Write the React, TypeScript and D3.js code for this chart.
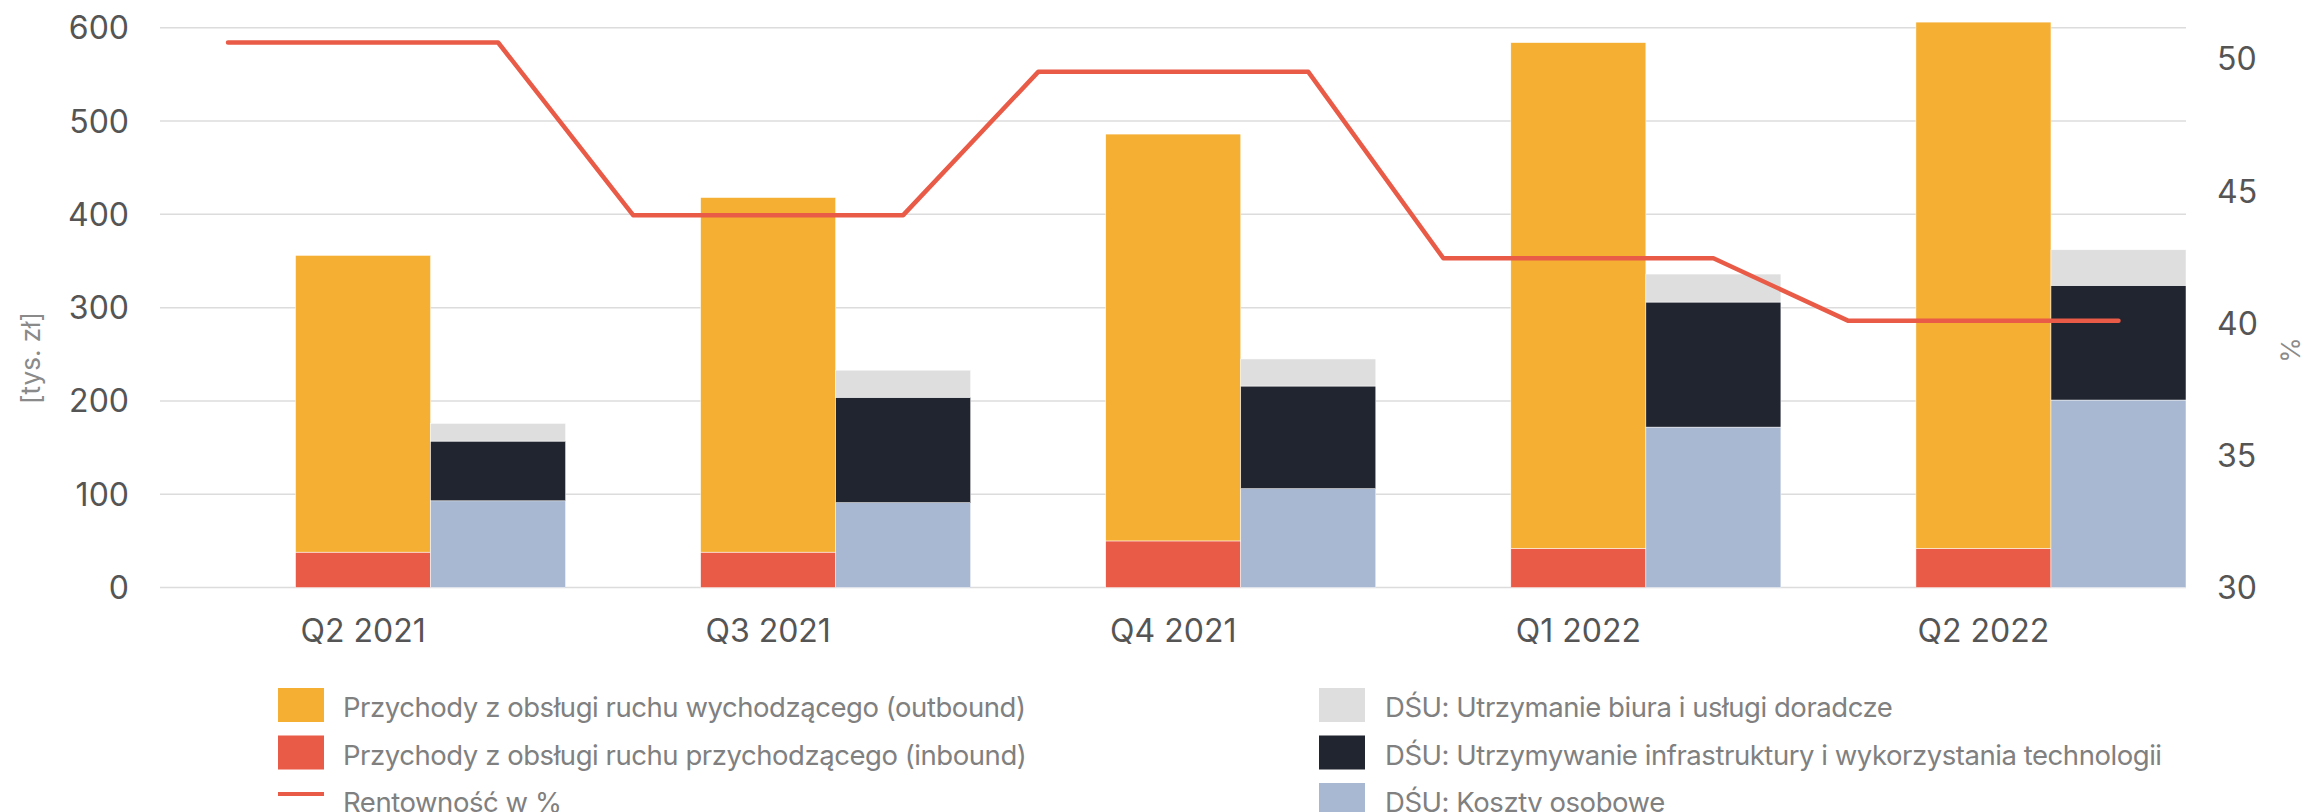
import React from "react";
import * as d3 from "d3";

const categories = ["Q2 2021", "Q3 2021", "Q4 2021", "Q1 2022", "Q2 2022"];
const inbound = [38, 38, 50, 42, 42];
const outbound = [318, 380, 436, 542, 564];
const personnel = [93, 91, 106, 172, 201];
const infrastructure = [64, 113, 110, 134, 123];
const office = [19, 29, 29, 30, 38];
const profitability = [50.62, 44.09, 49.51, 42.46, 40.09];
const leftTicks = [0, 100, 200, 300, 400, 500, 600];
const rightTicks = [30, 35, 40, 45, 50];

const legendLeft = [
  { label: "Przychody z obsługi ruchu wychodzącego (outbound)", color: "#F5AF33", kind: "rect" },
  { label: "Przychody z obsługi ruchu przychodzącego (inbound)", color: "#E95B47", kind: "rect" },
  { label: "Rentowność w %", color: "#E95B47", kind: "line" },
];
const legendRight = [
  { label: "DŚU: Utrzymanie biura i usługi doradcze", color: "#DEDEDE" },
  { label: "DŚU: Utrzymywanie infrastruktury i wykorzystania technologii", color: "#212530" },
  { label: "DŚU: Koszty osobowe", color: "#A8B8D2" },
];

const W = 2305;
const H = 812;
const FONT = "Inter, 'Noto Sans', sans-serif";

export default function App() {
  const x = d3.scaleBand<string>().domain(categories).range([160.5, 2186]);
  const slot = d3.scaleBand<string>().domain(["a", "b", "c"]).range([0, x.bandwidth()]);
  const bw = slot.bandwidth();
  const y = d3.scaleLinear().domain([0, 600]).range([587.6, 27.7]);
  const y2 = d3.scaleLinear().domain([30, 51.18]).range([587.6, 27.7]);

  const linePts: [number, number][] = [];
  categories.forEach((c, i) => {
    const x0 = x(c) as number;
    linePts.push([x0 + (slot("a") as number) + bw / 2, y2(profitability[i])]);
    linePts.push([x0 + (slot("c") as number) + bw / 2, y2(profitability[i])]);
  });
  const line = d3.line();

  const revStack = categories.map((c, i) => [
    { v0: 0, v1: inbound[i], color: "#E95B47" },
    { v0: inbound[i], v1: inbound[i] + outbound[i], color: "#F5AF33" },
  ]);
  const costStack = categories.map((c, i) => {
    const a = personnel[i];
    const b = a + infrastructure[i];
    const t = b + office[i];
    return [
      { v0: 0, v1: a, color: "#A8B8D2" },
      { v0: a, v1: b, color: "#212530" },
      { v0: b, v1: t, color: "#DEDEDE" },
    ];
  });

  const rowTops = [688, 735.5, 783];
  const swH = 34;

  return (
    <svg
      width={W}
      height={H}
      style={{ position: "absolute", left: 0, top: 0, background: "#fff" }}
      fontFamily={FONT}
    >
      {leftTicks.map((t) => (
        <line key={t} x1={160} x2={2186} y1={y(t)} y2={y(t)} stroke="#dcdcdc" strokeWidth={1.5} />
      ))}
      {leftTicks.map((t) => (
        <text key={"l" + t} x={129} y={y(t)} dy="0.36em" textAnchor="end" fontSize={32} fill="#555">
          {t}
        </text>
      ))}
      {rightTicks.map((t) => (
        <text key={"r" + t} x={2217} y={y2(t)} dy="0.36em" textAnchor="start" fontSize={32} fill="#555">
          {t}
        </text>
      ))}
      <text
        transform={`translate(31,358) rotate(-90)`}
        textAnchor="middle"
        dy="0.36em"
        fontSize={26}
        fill="#8a8a8a"
      >
        [tys. zł]
      </text>
      <text
        transform={`translate(2290,350) rotate(90)`}
        textAnchor="middle"
        dy="0.36em"
        fontSize={26}
        fill="#8a8a8a"
      >
        %
      </text>

      {categories.map((c, i) => {
        const x0 = x(c) as number;
        return (
          <g key={c}>
            {revStack[i].map((s, j) => (
              <rect
                key={"rv" + j}
                x={x0 + (slot("b") as number)}
                y={y(s.v1)}
                width={bw}
                height={y(s.v0) - y(s.v1)}
                fill={s.color}
                stroke="#fff"
                strokeWidth={0.5}
              />
            ))}
            {costStack[i].map((s, j) => (
              <rect
                key={"cs" + j}
                x={x0 + (slot("c") as number)}
                y={y(s.v1)}
                width={bw}
                height={y(s.v0) - y(s.v1)}
                fill={s.color}
                stroke="#fff"
                strokeWidth={0.5}
              />
            ))}
          </g>
        );
      })}

      <path
        d={line(linePts) || ""}
        fill="none"
        stroke="#E95B47"
        strokeWidth={4.5}
        strokeLinejoin="round"
        strokeLinecap="round"
      />

      {categories.map((c) => (
        <text
          key={"x" + c}
          x={(x(c) as number) + (slot("b") as number) + bw / 2}
          y={641.7}
          textAnchor="middle"
          fontSize={32}
          fill="#555"
        >
          {c}
        </text>
      ))}

      {legendLeft.map((it, i) => (
        <g key={"ll" + i}>
          {it.kind === "rect" ? (
            <rect x={278} y={rowTops[i]} width={46} height={swH} fill={it.color} />
          ) : (
            <line x1={278} x2={324} y1={rowTops[i] + 11} y2={rowTops[i] + 11} stroke={it.color} strokeWidth={4} />
          )}
          <text
            x={343}
            y={rowTops[i] + swH / 2 + 12}
            fontSize={27.5}
            letterSpacing={-0.45}
            fill="#808080"
          >
            {it.label}
          </text>
        </g>
      ))}
      {legendRight.map((it, i) => (
        <g key={"lr" + i}>
          <rect x={1319} y={rowTops[i]} width={46} height={swH} fill={it.color} />
          <text
            x={1385}
            y={rowTops[i] + swH / 2 + 12}
            fontSize={27.5}
            letterSpacing={-0.45}
            fill="#808080"
          >
            {it.label}
          </text>
        </g>
      ))}
    </svg>
  );
}
